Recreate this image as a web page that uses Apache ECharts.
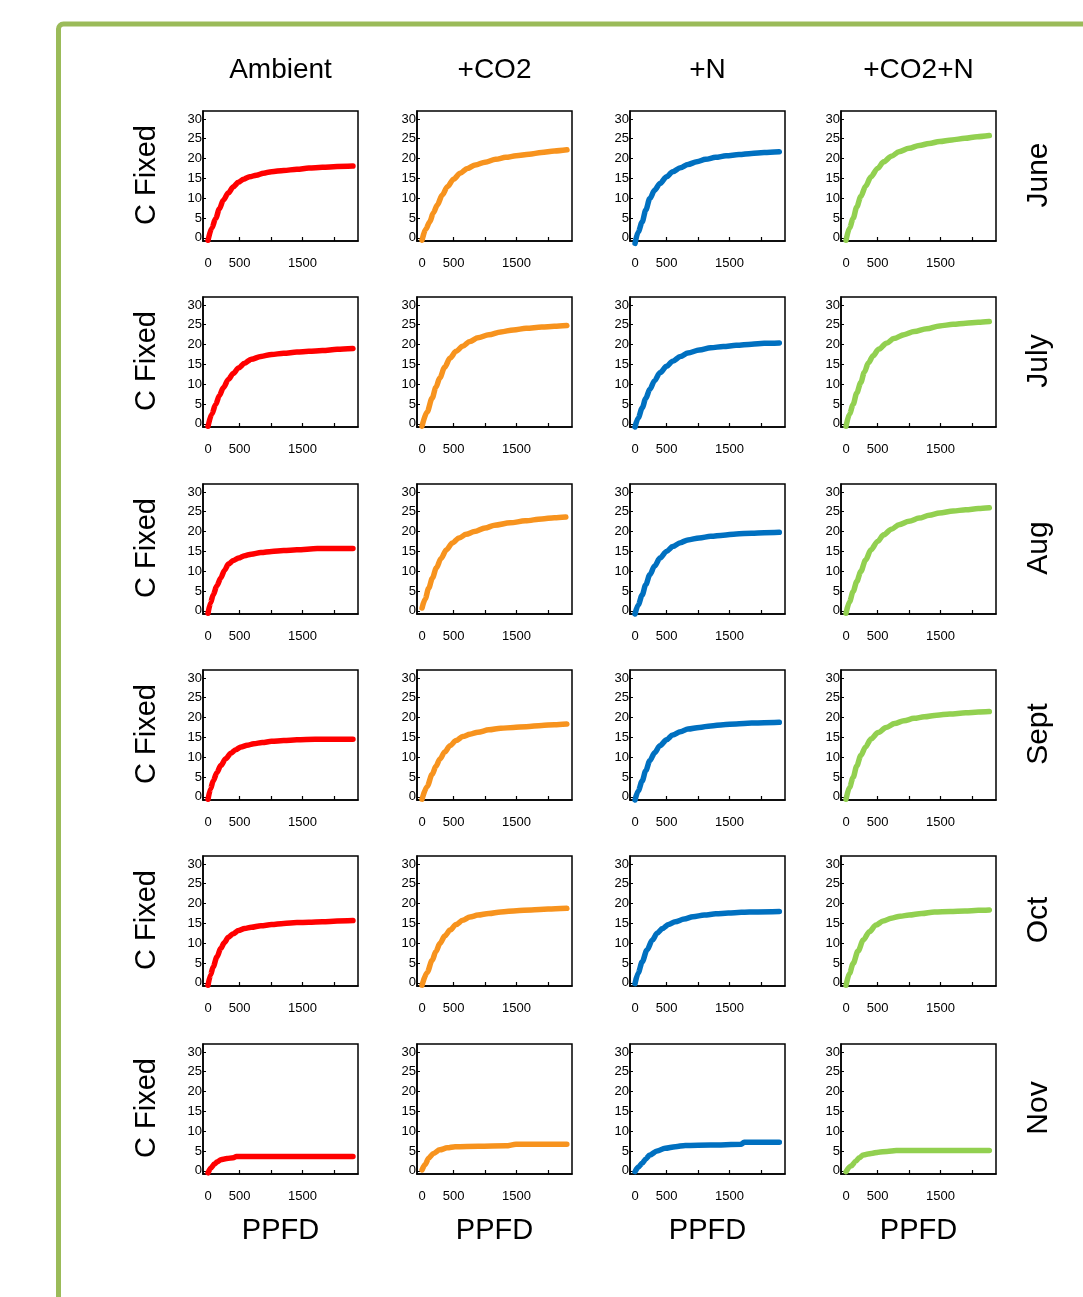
<!DOCTYPE html>
<html>
<head>
<meta charset="utf-8">
<script src="https://cdn.jsdelivr.net/npm/echarts@6/dist/echarts.min.js"></script>
<style>
html,body{margin:0;padding:0;background:#fff;}
#chart{width:1083px;height:1297px;}
</style>
</head>
<body>
<div id="chart"></div>
<script>
// ---- categories ----
const treatments = ['Ambient', '+CO2', '+N', '+CO2+N'];
const months = ['June', 'July', 'Aug', 'Sept', 'Oct', 'Nov'];
const treatmentColors = ['#FF0000', '#F7931E', '#0070C0', '#92D050'];
const xLabelValues = [0, 500, 1500];
const xTickValues = [500, 1000, 1500, 2000];
const yTickValues = [0, 5, 10, 15, 20, 25, 30];
const yAxisTitle = 'C Fixed';
const xAxisTitle = 'PPFD';

// ---- data: [PPFD, C fixed] ----
const June_Ambient = [[0,-0.6],[60,2.5],[121,4.9],[180,7.3],[242,9.5],[320,11.3],[403,12.9],[480,14.0],[565,14.8],[660,15.4],[766,15.8],[880,16.3],[1008,16.7],[1200,17.0],[1411,17.3],[1600,17.6],[1815,17.8],[2050,18.0],[2300,18.1]];
const June_CO2 = [[0,-0.6],[60,2.2],[121,4.0],[180,6.3],[242,8.3],[320,10.8],[403,12.9],[500,14.8],[605,16.3],[720,17.5],[847,18.4],[1000,19.1],[1169,19.8],[1330,20.3],[1492,20.7],[1700,21.1],[1895,21.5],[2100,21.9],[2300,22.2]];
const June_N = [[0,-1.4],[50,1.5],[113,4.0],[170,7.0],[234,9.9],[310,12.0],[395,13.7],[500,15.4],[597,16.7],[720,17.7],[839,18.5],[980,19.2],[1121,19.8],[1280,20.3],[1444,20.7],[1650,21.0],[1847,21.3],[2050,21.5],[2290,21.7]];
const June_CO2N = [[0,-0.6],[55,2.5],[113,4.9],[170,7.8],[234,10.4],[310,13.0],[395,15.4],[500,17.5],[597,19.2],[720,20.6],[839,21.7],[1000,22.6],[1161,23.3],[1320,23.8],[1484,24.3],[1680,24.7],[1887,25.1],[2080,25.5],[2274,25.8]];

const July_Ambient = [[0,-0.6],[60,2.5],[121,4.9],[180,7.1],[242,9.1],[323,11.2],[400,12.7],[484,14.1],[580,15.3],[685,16.3],[840,17.0],[1008,17.5],[1200,17.8],[1411,18.1],[1600,18.3],[1815,18.5],[2050,18.8],[2300,19.0]];
const July_CO2 = [[0,-0.6],[80,3.0],[161,6.5],[220,9.2],[282,11.6],[360,14.3],[444,16.6],[540,18.3],[645,19.6],[760,20.8],[887,21.7],[1060,22.5],[1250,23.2],[1450,23.7],[1653,24.1],[1900,24.4],[2100,24.6],[2298,24.8]];
const July_N = [[0,-0.8],[50,1.5],[113,4.0],[170,6.4],[234,8.7],[310,10.9],[395,12.9],[500,14.5],[597,15.8],[720,17.0],[839,17.9],[1020,18.6],[1202,19.2],[1400,19.5],[1605,19.8],[1850,20.1],[2050,20.3],[2290,20.4]];
const July_CO2N = [[0,-0.6],[55,2.5],[113,4.9],[170,7.8],[234,10.4],[290,13.0],[355,15.4],[430,17.2],[516,18.8],[640,20.3],[758,21.5],[920,22.5],[1081,23.3],[1280,24.0],[1484,24.7],[1700,25.1],[1900,25.4],[2100,25.6],[2274,25.8]];

const Aug_Ambient = [[0,-0.6],[40,2.0],[81,4.0],[140,6.3],[202,8.3],[260,10.2],[323,11.8],[400,12.7],[484,13.3],[580,13.9],[685,14.3],[840,14.7],[1008,15.0],[1200,15.2],[1411,15.4],[1734,15.7],[2000,15.7],[2300,15.7]];
const Aug_CO2 = [[0,0.7],[50,3.0],[105,5.7],[165,8.3],[226,10.8],[300,13.2],[387,15.4],[480,17.1],[589,18.4],[700,19.3],[831,20.0],[1000,20.9],[1153,21.6],[1400,22.2],[1637,22.7],[1900,23.2],[2100,23.5],[2282,23.7]];
const Aug_N = [[0,-0.8],[50,1.5],[113,4.0],[170,6.6],[234,9.1],[310,11.3],[395,13.3],[500,15.0],[597,16.2],[720,17.2],[839,17.9],[1020,18.4],[1202,18.8],[1400,19.1],[1605,19.4],[1850,19.6],[2050,19.7],[2290,19.8]];
const Aug_CO2N = [[0,-0.6],[55,2.3],[113,4.9],[170,7.4],[234,9.9],[310,12.8],[395,15.4],[500,17.5],[597,19.2],[720,20.6],[839,21.7],[1000,22.6],[1161,23.4],[1320,24.1],[1484,24.7],[1700,25.2],[1900,25.5],[2100,25.8],[2274,26.0]];

const Sept_Ambient = [[0,-0.6],[40,2.0],[81,4.0],[140,6.1],[202,7.9],[280,9.6],[363,11.0],[440,11.9],[524,12.6],[620,13.0],[726,13.4],[860,13.7],[1008,14.0],[1200,14.2],[1411,14.4],[1700,14.5],[2000,14.5],[2300,14.5]];
const Sept_CO2 = [[0,-0.6],[80,2.6],[161,5.7],[220,7.7],[282,9.5],[360,11.3],[444,12.9],[540,14.2],[645,15.2],[760,15.8],[887,16.3],[1060,16.9],[1250,17.3],[1450,17.5],[1653,17.7],[1900,18.0],[2100,18.2],[2298,18.4]];
const Sept_N = [[0,-0.8],[50,1.5],[113,4.0],[170,6.6],[234,9.1],[310,11.1],[395,12.9],[500,14.4],[597,15.6],[720,16.4],[839,17.1],[1020,17.5],[1202,17.9],[1400,18.2],[1605,18.4],[1850,18.6],[2050,18.7],[2290,18.8]];
const Sept_CO2N = [[0,-0.6],[55,2.4],[113,4.9],[170,7.8],[234,10.4],[310,12.6],[395,14.6],[510,16.2],[637,17.5],[770,18.5],[919,19.2],[1080,19.8],[1242,20.2],[1440,20.6],[1645,20.9],[1900,21.2],[2100,21.4],[2274,21.5]];

const Oct_Ambient = [[0,-0.6],[40,2.0],[81,4.0],[140,6.5],[202,8.7],[260,10.2],[323,11.5],[400,12.4],[484,13.2],[580,13.7],[685,14.0],[840,14.4],[1008,14.7],[1200,15.0],[1411,15.2],[1600,15.3],[1815,15.4],[2050,15.6],[2300,15.7]];
const Oct_CO2 = [[0,-0.6],[80,2.6],[161,5.7],[220,7.9],[282,9.9],[360,11.8],[444,13.3],[540,14.7],[645,15.8],[760,16.6],[887,17.1],[1060,17.5],[1250,17.9],[1500,18.2],[1734,18.4],[2000,18.6],[2298,18.8]];
const Oct_N = [[0,-0.2],[50,2.5],[113,5.3],[190,8.3],[274,10.8],[350,12.5],[435,13.7],[530,14.7],[637,15.4],[780,16.1],[919,16.7],[1100,17.1],[1282,17.4],[1480,17.6],[1686,17.8],[1950,17.9],[2290,18.0]];
const Oct_CO2N = [[0,-0.6],[55,2.4],[113,4.9],[190,8.0],[274,10.8],[370,12.9],[476,14.6],[590,15.6],[718,16.3],[860,16.8],[1000,17.1],[1200,17.5],[1403,17.9],[1650,18.0],[1887,18.1],[2100,18.3],[2274,18.4]];

const Nov_Ambient = [[0,-0.5],[50,0.8],[100,1.7],[150,2.3],[202,2.8],[300,3.1],[400,3.3],[450,3.6],[1000,3.6],[2300,3.6]];
const Nov_CO2 = [[0,0.25],[50,1.6],[105,3.2],[180,4.4],[282,5.3],[400,5.8],[524,6.1],[900,6.2],[1331,6.3],[1492,6.7],[2298,6.7]];
const Nov_N = [[0,-0.2],[50,0.9],[113,1.9],[170,3.0],[234,4.0],[350,5.0],[476,5.7],[640,6.1],[798,6.4],[1200,6.5],[1686,6.7],[1730,7.2],[2290,7.2]];
const Nov_CO2N = [[0,-0.2],[80,1.2],[153,2.4],[210,3.3],[274,4.0],[400,4.4],[516,4.7],[650,4.9],[798,5.1],[1500,5.1],[2274,5.1]];

const panelData = [
  [June_Ambient, June_CO2, June_N, June_CO2N],
  [July_Ambient, July_CO2, July_N, July_CO2N],
  [Aug_Ambient, Aug_CO2, Aug_N, Aug_CO2N],
  [Sept_Ambient, Sept_CO2, Sept_N, Sept_CO2N],
  [Oct_Ambient, Oct_CO2, Oct_N, Oct_CO2N],
  [Nov_Ambient, Nov_CO2, Nov_N, Nov_CO2N]
];

// ---- layout ----
const FONT = '"Liberation Sans", Arial, sans-serif';
const colLeft = [203, 417, 630, 841];
const rowTop = [111, 297, 484, 670, 856, 1044];
const panelW = 155, panelH = 130;

const grids = [], xAxes = [], yAxes = [], series = [];
let idx = 0;
for (let r = 0; r < months.length; r++) {
  for (let c = 0; c < treatments.length; c++) {
    grids.push({
      left: colLeft[c], top: rowTop[r], width: panelW, height: panelH,
      show: true, borderColor: '#000', borderWidth: 1.5, backgroundColor: '#fff'
    });
    xAxes.push({
      gridIndex: idx, type: 'value', min: -80, max: 2380,
      axisLine: { show: true, onZero: false, lineStyle: { color: '#000', width: 1.5 } },
      axisTick: { show: true, inside: true, length: 4, customValues: xTickValues, lineStyle: { color: '#000', width: 1.2 } },
      axisLabel: { show: true, customValues: xLabelValues, color: '#000', fontSize: 13, fontFamily: FONT, margin: 16,
        formatter: function (v) { return String(v); } },
      splitLine: { show: false }
    });
    yAxes.push({
      gridIndex: idx, type: 'value', min: -0.8, max: 32,
      axisLine: { show: true, onZero: false, lineStyle: { color: '#000', width: 1.5 } },
      axisTick: { show: true, inside: true, length: 3, customValues: yTickValues, lineStyle: { color: '#000', width: 1 } },
      axisLabel: { show: true, customValues: yTickValues, color: '#000', fontSize: 13, fontFamily: FONT, margin: 1,
        formatter: function (v) { return String(v); } },
      splitLine: { show: false }
    });
    series.push({
      name: months[r] + ' ' + treatments[c],
      type: 'line', xAxisIndex: idx, yAxisIndex: idx,
      data: panelData[r][c], showSymbol: false, smooth: 0.3, smoothMonotone: 'x', clip: false,
      lineStyle: { color: treatmentColors[c], width: 5.5, cap: 'round', join: 'round' },
      itemStyle: { color: treatmentColors[c] },
      animation: false
    });
    idx++;
  }
}

const graphics = [
  { type: 'rect', shape: { x: 58.5, y: 24, width: 1200, height: 1400, r: 5 },
    style: { fill: 'none', stroke: '#9BBB59', lineWidth: 5 }, z: 0 }
];
for (let c = 0; c < treatments.length; c++) {
  const cx = colLeft[c] + panelW / 2;
  graphics.push({ type: 'text', x: cx, y: 70,
    style: { text: treatments[c], fontSize: 28, fontFamily: FONT, fill: '#000', textAlign: 'center', textVerticalAlign: 'middle' } });
  graphics.push({ type: 'text', x: cx, y: 1231,
    style: { text: xAxisTitle, fontSize: 29, fontFamily: FONT, fill: '#000', textAlign: 'center', textVerticalAlign: 'middle' } });
}
for (let r = 0; r < months.length; r++) {
  const cy = rowTop[r] + panelH / 2 - 1;
  graphics.push({ type: 'text', x: 147, y: cy, rotation: Math.PI / 2,
    style: { text: yAxisTitle, fontSize: 29, fontFamily: FONT, fill: '#000', textAlign: 'center', textVerticalAlign: 'middle' } });
  graphics.push({ type: 'text', x: 1039, y: cy, rotation: Math.PI / 2,
    style: { text: months[r], fontSize: 30, fontFamily: FONT, fill: '#000', textAlign: 'center', textVerticalAlign: 'middle' } });
}

const chart = echarts.init(document.getElementById('chart'), null, { renderer: 'canvas' });
chart.setOption({
  backgroundColor: '#fff',
  animation: false,
  grid: grids, xAxis: xAxes, yAxis: yAxes, series: series,
  graphic: graphics
});
</script>
</body>
</html>
